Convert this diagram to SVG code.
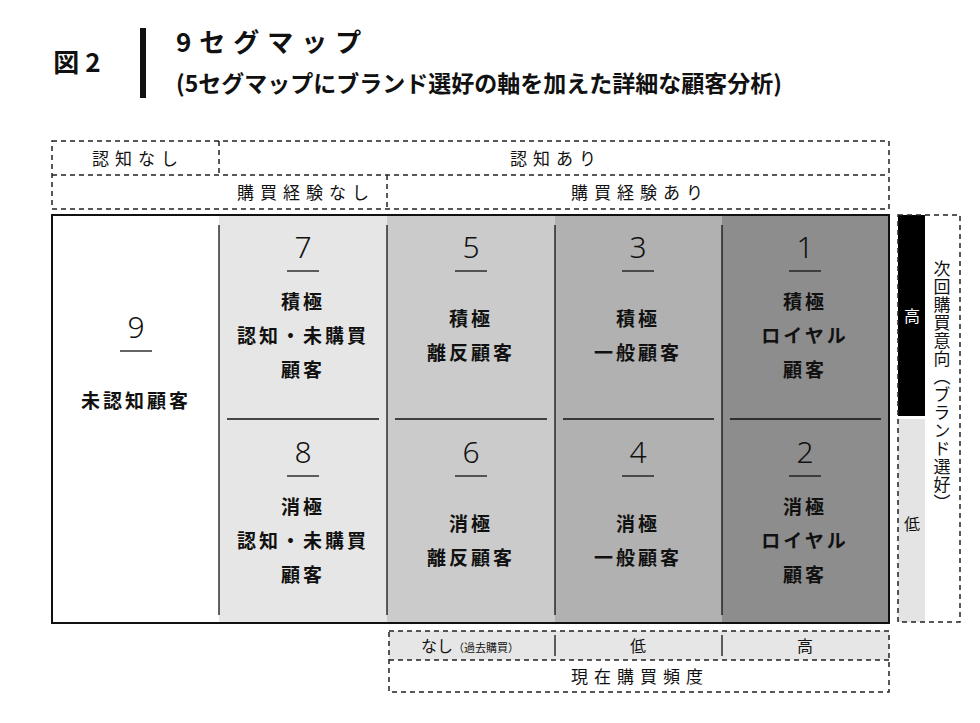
<svg xmlns="http://www.w3.org/2000/svg" width="980" height="723" viewBox="0 0 980 723">
<style>
text{font-family:"Noto Sans CJK JP","Noto Sans",sans-serif;fill:#111;text-anchor:middle}
.d{fill:none;stroke:#222;stroke-width:1.5;stroke-dasharray:5 4}
.n{font-size:30px;font-weight:300;font-family:"Noto Sans","Noto Sans CJK JP",sans-serif}
.l{font-size:19px;font-weight:bold;letter-spacing:3px}
.h{font-size:17px;letter-spacing:6px}
.s{stroke:#111;stroke-width:1.3}
</style>
<rect width="980" height="723" fill="#fff"/>
<g id="title">
<text x="80" y="72" style="font-size:26px;font-weight:bold;letter-spacing:6px">図2</text>
<rect x="140" y="28" width="6" height="70" fill="#111"/>
<text x="176" y="52" style="font-size:26px;font-weight:bold;letter-spacing:8px;text-anchor:start">9セグマップ</text>
<text x="176" y="92" style="font-size:23px;font-weight:bold;text-anchor:start">(5セグマップにブランド選好の軸を加えた詳細な顧客分析)</text>
</g>
<g id="header">
<rect class="d" x="52" y="141" width="837" height="68"/>
<line class="d" x1="52" y1="175" x2="889" y2="175"/>
<line class="d" x1="219" y1="141" x2="219" y2="175"/>
<line class="d" x1="387" y1="175" x2="387" y2="209"/>
<text class="h" x="138" y="165">認知なし</text>
<text class="h" x="556" y="165">認知あり</text>
<text class="h" x="306" y="199">購買経験なし</text>
<text class="h" x="640" y="199">購買経験あり</text>
</g>
<g id="grid">
<rect x="219" y="215" width="168" height="408" fill="#e6e6e6"/>
<rect x="387" y="215" width="168" height="408" fill="#cbcbcb"/>
<rect x="555" y="215" width="167" height="408" fill="#b1b1b1"/>
<rect x="722" y="215" width="167" height="408" fill="#8d8d8d"/>
<rect x="52" y="215" width="837" height="408" fill="none" stroke="#111" stroke-width="2"/>
<g class="s">
<line x1="219" y1="225" x2="219" y2="615"/><line x1="387" y1="225" x2="387" y2="615"/><line x1="555" y1="225" x2="555" y2="615"/><line x1="722" y1="225" x2="722" y2="615"/>
<line x1="227" y1="419" x2="379" y2="419"/><line x1="395" y1="419" x2="547" y2="419"/><line x1="563" y1="419" x2="714" y2="419"/><line x1="730" y1="419" x2="881" y2="419"/>
<line x1="120" y1="351" x2="152" y2="351"/>
<line x1="287" y1="271" x2="319" y2="271"/><line x1="455" y1="271" x2="487" y2="271"/><line x1="622" y1="271" x2="654" y2="271"/><line x1="789" y1="271" x2="821" y2="271"/>
<line x1="287" y1="476" x2="319" y2="476"/><line x1="455" y1="476" x2="487" y2="476"/><line x1="622" y1="476" x2="654" y2="476"/><line x1="789" y1="476" x2="821" y2="476"/>
</g>
</g>
<g id="c9"><text class="n" x="136" y="338">9</text><text class="l" x="136" y="408">未認知顧客</text></g>
<g id="c7"><text class="n" x="303" y="258">7</text><text class="l" x="303" y="309">積極</text><text class="l" x="303" y="343">認知・未購買</text><text class="l" x="303" y="377">顧客</text></g>
<g id="c5"><text class="n" x="471" y="258">5</text><text class="l" x="471" y="326">積極</text><text class="l" x="471" y="360">離反顧客</text></g>
<g id="c3"><text class="n" x="638" y="258">3</text><text class="l" x="638" y="326">積極</text><text class="l" x="638" y="360">一般顧客</text></g>
<g id="c1"><text class="n" x="805" y="258">1</text><text class="l" x="805" y="309">積極</text><text class="l" x="805" y="343">ロイヤル</text><text class="l" x="805" y="377">顧客</text></g>
<g id="c8"><text class="n" x="303" y="463">8</text><text class="l" x="303" y="514">消極</text><text class="l" x="303" y="548">認知・未購買</text><text class="l" x="303" y="582">顧客</text></g>
<g id="c6"><text class="n" x="471" y="463">6</text><text class="l" x="471" y="531">消極</text><text class="l" x="471" y="565">離反顧客</text></g>
<g id="c4"><text class="n" x="638" y="463">4</text><text class="l" x="638" y="531">消極</text><text class="l" x="638" y="565">一般顧客</text></g>
<g id="c2"><text class="n" x="805" y="463">2</text><text class="l" x="805" y="514">消極</text><text class="l" x="805" y="548">ロイヤル</text><text class="l" x="805" y="582">顧客</text></g>
<g id="axis-right">
<rect x="898" y="215" width="27" height="201" fill="#000"/>
<rect x="898" y="419" width="27" height="203" fill="#e4e4e4"/>
<rect class="d" x="898" y="215" width="62" height="407"/>
<text x="912" y="322" style="font-size:16px;fill:#fff">高</text>
<text x="912" y="530" style="font-size:16px">低</text>
<text x="942" y="260" style="font-size:17px;writing-mode:vertical-rl;text-anchor:start;letter-spacing:1px">次回購買意向（ブランド選好）</text>
</g>
<g id="axis-bottom">
<rect x="389" y="631" width="500" height="29" fill="#e6e6e6"/>
<rect class="d" x="389" y="631" width="500" height="61"/>
<line class="d" x1="389" y1="660" x2="889" y2="660"/>
<line class="s" x1="555" y1="635" x2="555" y2="656"/><line class="s" x1="722" y1="635" x2="722" y2="656"/>
<text x="470" y="652" style="font-size:16px"><tspan>なし</tspan><tspan style="font-size:11px">（過去購買）</tspan></text>
<text x="638" y="652" style="font-size:16px">低</text>
<text x="805" y="652" style="font-size:16px">高</text>
<text class="h" x="640" y="683">現在購買頻度</text>
</g>
</svg>
